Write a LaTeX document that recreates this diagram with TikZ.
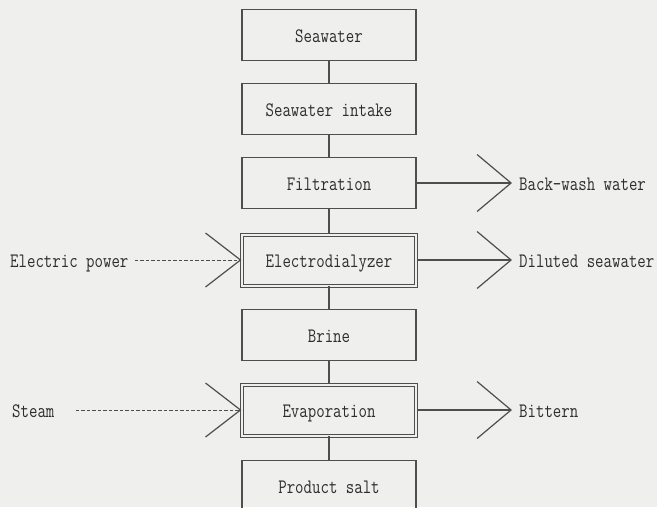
\documentclass[tikz,border=0pt]{standalone}
\usepackage{graphicx}
\usetikzlibrary{arrows.meta}
\definecolor{kpaper}{RGB}{239,239,237}
\definecolor{kline}{RGB}{78,78,78}
\definecolor{kink}{RGB}{45,45,45}
\newcommand{\tw}[1]{\scalebox{0.8}[1]{#1}}

\begin{document}
\begin{tikzpicture}[x=1pt, y=-1pt,
    stage/.style={draw=kline, line width=1.2pt, minimum width=174pt, minimum height=51pt, inner sep=0pt,
        text=kink, font=\fontsize{20.5}{20.5}\ttfamily, text height=14pt, text depth=0pt},
    twin/.style={stage, line width=1pt, double=kpaper, double distance=2pt},
    side/.style={text=kink, inner sep=0pt, font=\fontsize{20.5}{20.5}\ttfamily, text height=14pt, text depth=0pt},
    link/.style={draw=kline, line width=1.2pt},
    outflow/.style={draw=kline, line width=1.2pt, -{Straight Barb[length=34pt, width=57pt]}, shorten >=7pt},
    inflow/.style={draw=kline, line width=0.9pt, dash pattern=on 3.5pt off 2pt,
        -{Straight Barb[length=35pt, width=54pt, line width=1.2pt, color=kline]}}
]
        % background
        \useasboundingbox (0,0) rectangle (657,507);
        \fill[kpaper] (0,0) rectangle (657,507);
        \clip (0,0) rectangle (657,507);

        % process stages
        \node[stage] (sea) at (329,35) {\tw{Seawater}};
        \node[stage] (intake) at (329,109) {\tw{Seawater intake}};
        \node[stage] (filter) at (329,183) {\tw{Filtration}};
        \node[twin] (ed) at (329,260) {\tw{Electrodialyzer}};
        \node[stage] (brine) at (329,335) {\tw{Brine}};
        \node[twin] (evap) at (329,410) {\tw{Evaporation}};
        \node[stage] (salt) at (329,486) {\tw{Product salt}};

        \foreach \a/\b in {sea/intake, intake/filter, filter/ed, ed/brine, brine/evap, evap/salt}
        {
            \draw[link] (\a) -- (\b);
        }

        % outputs
        \node[side, anchor=west] (backwash) at (519,183) {\tw{Back-wash water}};
        \node[side, anchor=west] (diluted) at (519,260) {\tw{Diluted seawater}};
        \node[side, anchor=west] (bittern) at (519,410) {\tw{Bittern}};
        \draw[outflow] (filter.east) -- (backwash.west);
        \draw[outflow] (ed.east) -- (diluted.west);
        \draw[outflow] (evap.east) -- (bittern.west);

        % inputs
        \node[side, anchor=west] (power) at (10,260) {\tw{Electric power}};
        \node[side, anchor=west] (steam) at (12,410) {\tw{Steam}};
        \draw[inflow, shorten <=6pt] (power.east) -- (ed.west);
        \draw[inflow, shorten <=21pt] (steam.east) -- (evap.west);
    \end{tikzpicture}
\end{document}
